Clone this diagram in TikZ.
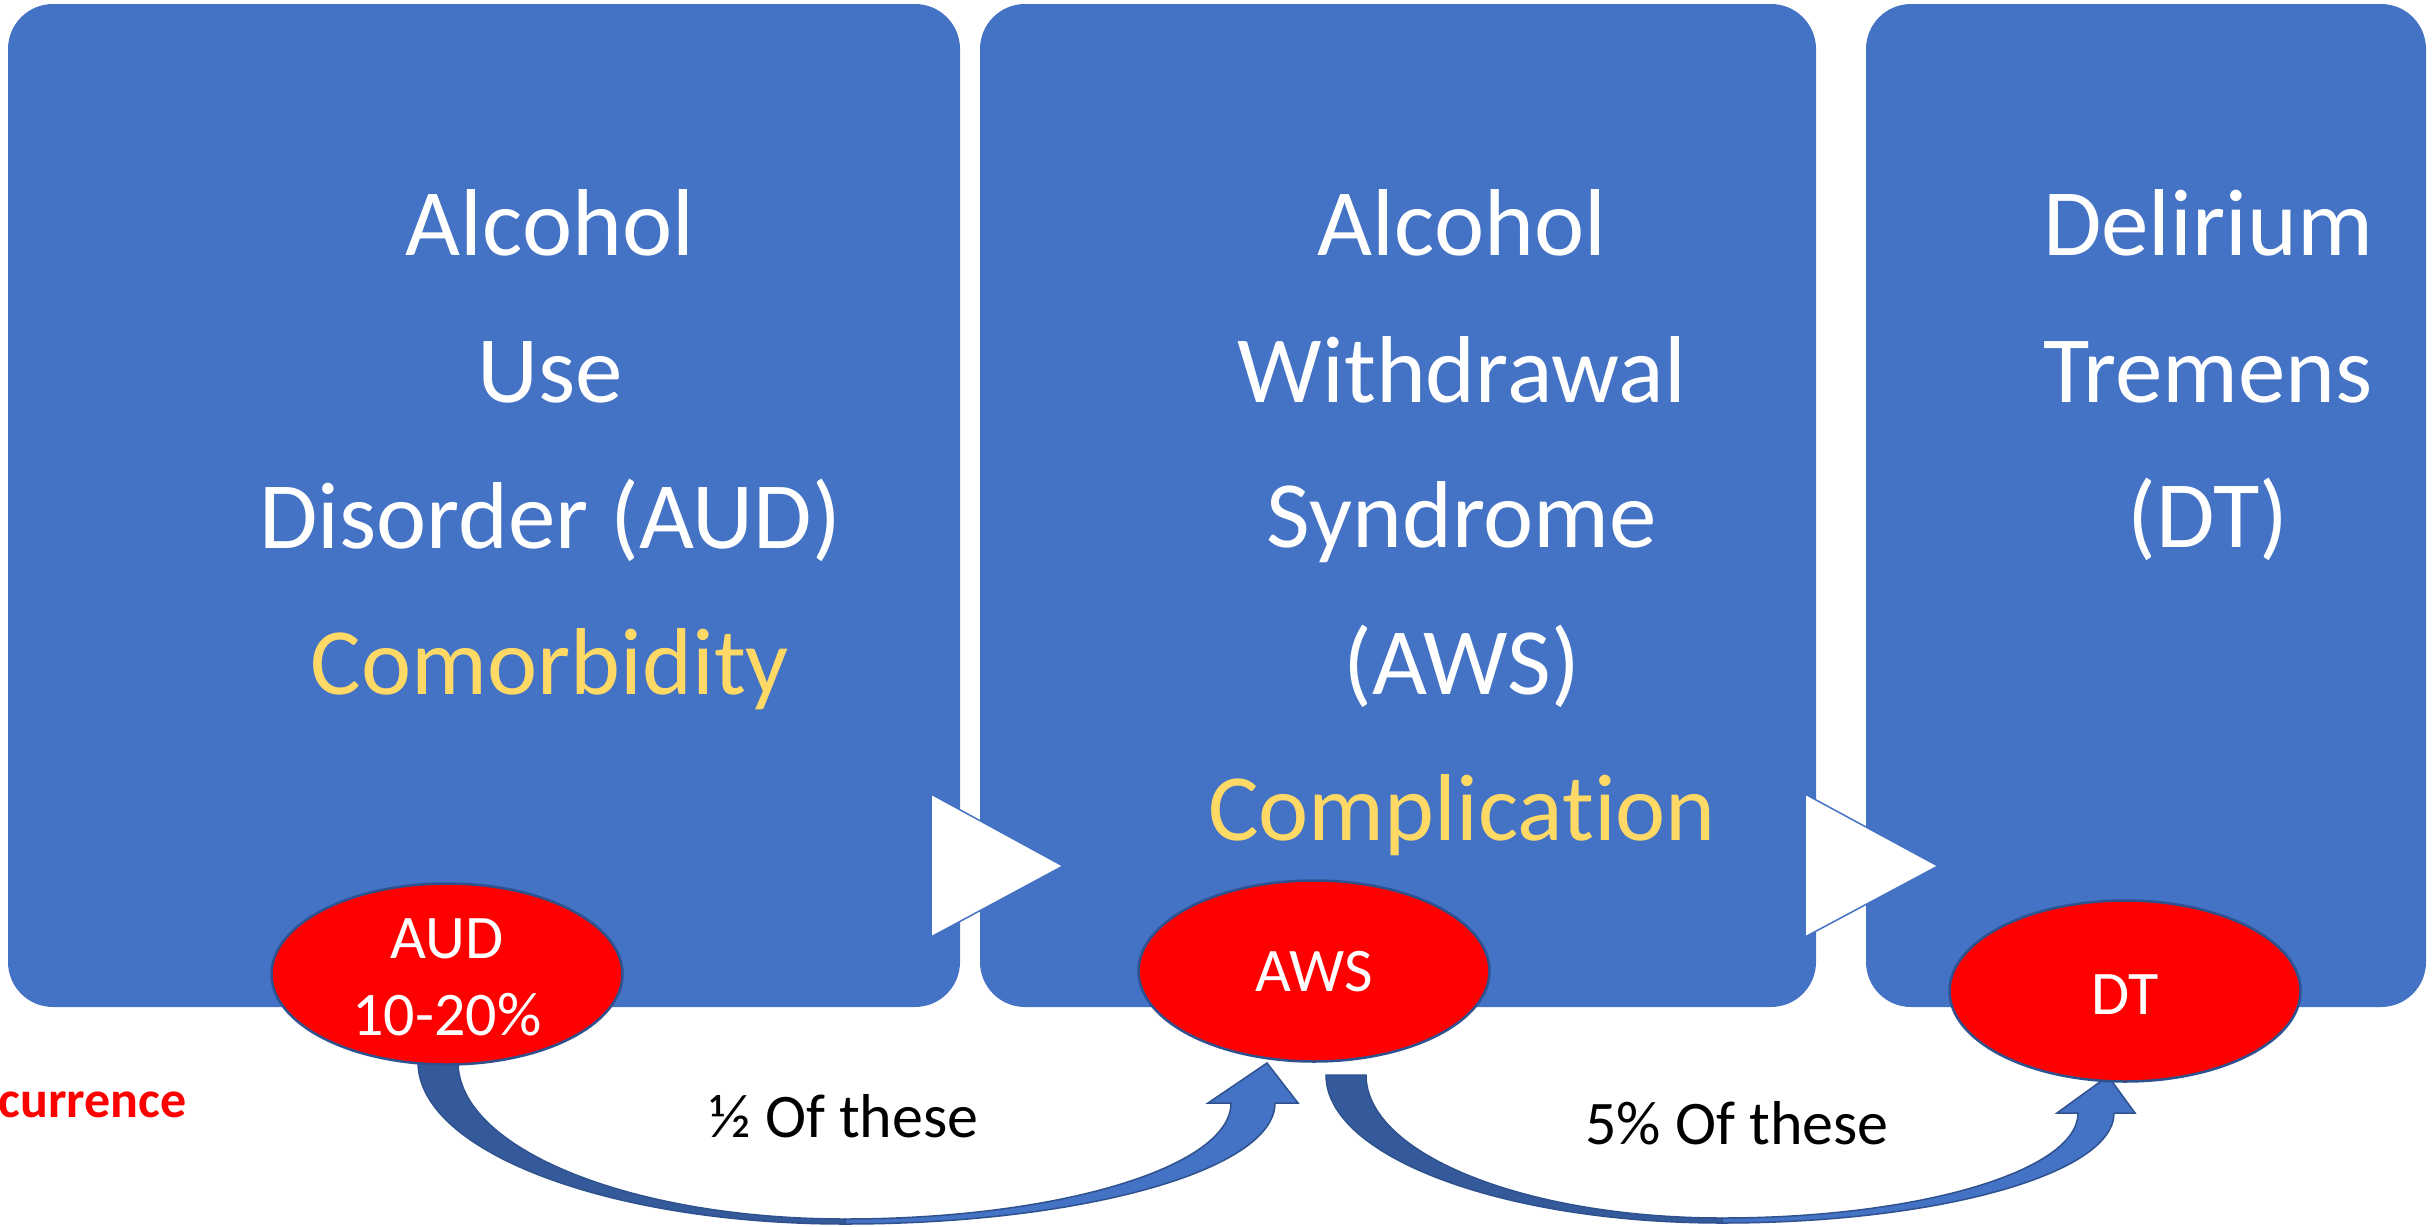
\documentclass[tikz,border=0pt]{standalone}
\usepackage{fontspec}
\setmainfont[Ligatures=NoCommon]{Carlito}
\usetikzlibrary{shapes.geometric}
\definecolor{boxblue}{HTML}{4472C4}
\definecolor{ovalblue}{HTML}{2F528F}
\definecolor{darkband}{HTML}{345A9B}
\definecolor{gold}{HTML}{FFD966}
\begin{document}
\begin{tikzpicture}[x=1pt,y=-1pt,
  boxstyle/.style={rectangle, fill=boxblue, rounded corners=45pt, inner sep=0pt, outer sep=0pt},
  bigtxt/.style={anchor=base, text=white, font=\fontsize{95}{110}\selectfont, inner sep=0pt},
  goldtxt/.style={bigtxt, text=gold},
  oval/.style={ellipse, fill=red, draw=ovalblue, line width=2.5pt, minimum width=351pt, minimum height=181pt, inner sep=0pt},
  smalltxt/.style={anchor=base, text=white, font=\fontsize{62}{74}\selectfont, inner sep=0pt},
  lbl/.style={anchor=base, text=black, font=\fontsize{62}{74}\selectfont, inner sep=0pt},
  tri/.style={fill=white, draw=boxblue, line width=1.5pt},
  bandd/.style={fill=darkband, draw=ovalblue, line width=1.5pt},
  bandl/.style={fill=boxblue, draw=ovalblue, line width=1.5pt}]
\useasboundingbox[fill=white] (0,0) rectangle (2433,1226);

% boxes
\node[boxstyle, minimum width=952pt, minimum height=1003pt] (b1) at (484,505.5) {};
\node[boxstyle, minimum width=836pt, minimum height=1003pt] (b2) at (1398,505.5) {};
\node[boxstyle, minimum width=560pt, minimum height=1003pt] (b3) at (2146,505.5) {};

% triangles
\path[tri] (931,794) -- (1063,866) -- (931,937) -- cycle;
\path[tri] (1805,794) -- (1938,866) -- (1805,937) -- cycle;

% curved arrow 1
\coordinate (c1) at (845,1062);
\path[bandd] (418,1050) -- (418,1062) .. controls (418,1151.5) and (609,1224) .. (845,1224)
  -- (845,1219) .. controls (631,1219) and (458,1148.7) .. (458,1062) -- (458,1050) -- cycle;
\path[bandl] (845,1224) .. controls (1082.5,1224) and (1275,1169.8) .. (1275,1103)
  -- (1298,1103) -- (1267,1063) -- (1208,1103) -- (1231,1103)
  .. controls (1231,1167) and (1058,1219) .. (845,1219) -- cycle;

% curved arrow 2
\coordinate (c2) at (1722,1075);
\path[bandd] (1326,1075) .. controls (1326,1156.7) and (1503.3,1223) .. (1722,1223)
  -- (1722,1218) .. controls (1525.4,1218) and (1366,1154) .. (1366,1075) -- cycle;
\path[bandl] (1722,1223) .. controls (1938.5,1223) and (2114,1173.8) .. (2114,1113)
  -- (2135,1113) -- (2108,1076) -- (2057,1113) -- (2078,1113)
  .. controls (2078,1171) and (1918.6,1218) .. (1722,1218) -- cycle;

% ellipses
\node[oval] (e1) at (447,974) {};
\node[oval] (e2) at (1314,971) {};
\node[oval] (e3) at (2125,991) {};

% box 1 text
\node[bigtxt] (t11) at (550,255) {Alcohol};
\node[bigtxt] (t12) at (550,402) {Use};
\node[bigtxt] (t13) at (550,548) {Disorder (AUD)};
\node[goldtxt] (t14) at (550,694) {Comorbidity};

% box 2 text
\node[bigtxt] (t21) at (1462,255) {Alcohol};
\node[bigtxt] (t22) at (1462,402) {Withdrawal};
\node[bigtxt] (t23) at (1462,547) {Syndrome};
\node[bigtxt] (t24) at (1462,694) {(AWS)};
\node[goldtxt] (t25) at (1462,840) {Complication};

% box 3 text
\node[bigtxt] (t31) at (2208,255) {Delirium};
\node[bigtxt] (t32) at (2208,402) {Tremens};
\node[bigtxt] (t33) at (2208,547) {(DT)};

% ellipse text
\node[smalltxt] (s11) at (447,958) {AUD};
\node[smalltxt] (s12) at (447,1035) {10-20\%};
\node[smalltxt] (s2) at (1314,991) {AWS};
\node[smalltxt] (s3) at (2125,1014) {DT};

% arrow labels
\node[lbl] (l1) at (844,1137) {½ Of these};
\node[lbl] (l2) at (1737,1144) {5\% Of these};

% clipped red text
\node[anchor=base east, text=red, font=\bfseries\fontsize{52}{62}\selectfont, inner sep=0pt] (rec) at (187,1117) {currence};
\end{tikzpicture}
\end{document}
